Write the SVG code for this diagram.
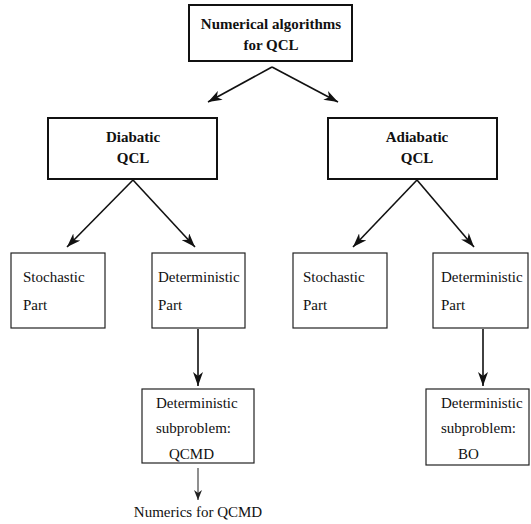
<svg xmlns="http://www.w3.org/2000/svg" width="531" height="524" viewBox="0 0 531 524" font-family="'Liberation Serif', 'Times New Roman', Times, 'DejaVu Serif', serif">
<defs>
<style>
.t{font-family:'Liberation Serif','Times New Roman',Times,'DejaVu Serif',serif;font-size:15px;fill:#111}
.b{font-weight:bold}
.bx{fill:#fff;stroke:#111;stroke-width:2}
.sx{fill:#fff;stroke:#222;stroke-width:1.2}
.c{stroke:#111;stroke-width:1.6;fill:none}
.c2{stroke:#333;stroke-width:1.1;fill:none}
</style>
<marker id="ah" viewBox="0 0 14 10" refX="14" refY="5" markerWidth="14" markerHeight="10" markerUnits="userSpaceOnUse" orient="auto">
<path d="M0,0 L14,5 L0,10 L4,5 z" fill="#111"/>
</marker>
<marker id="ah2" viewBox="0 0 10 8" refX="10" refY="4" markerWidth="10" markerHeight="8" markerUnits="userSpaceOnUse" orient="auto">
<path d="M0,0 L10,4 L0,8 L3,4 z" fill="#222"/>
</marker>
</defs>
<rect width="531" height="524" fill="#fff"/>
<g id="connectors">
<path class="c" d="M272,67 L208,102" marker-end="url(#ah)"/>
<path class="c" d="M272,67 L338,102" marker-end="url(#ah)"/>
<path class="c" d="M133,180 L67,247" marker-end="url(#ah)"/>
<path class="c" d="M133,180 L195,247" marker-end="url(#ah)"/>
<path class="c" d="M417,180 L353,247" marker-end="url(#ah)"/>
<path class="c" d="M417,180 L474,247" marker-end="url(#ah)"/>
<path class="c" d="M198,329 L198,386" marker-end="url(#ah)"/>
<path class="c" d="M483,329 L483,386" marker-end="url(#ah)"/>
<path class="c2" d="M198,468 L198,500" marker-end="url(#ah2)"/>
</g>
<g id="root">
<rect class="bx" x="189" y="5" width="163" height="56"/>
<text class="t b" x="271" y="29" text-anchor="middle">Numerical algorithms</text>
<text class="t b" x="271" y="50" text-anchor="middle">for QCL</text>
</g>
<g id="diabatic">
<rect class="bx" x="48" y="118" width="169" height="61"/>
<text class="t b" x="133" y="142" text-anchor="middle">Diabatic</text>
<text class="t b" x="133" y="163" text-anchor="middle">QCL</text>
</g>
<g id="adiabatic">
<rect class="bx" x="328" y="118" width="169" height="61"/>
<text class="t b" x="417" y="142" text-anchor="middle">Adiabatic</text>
<text class="t b" x="417" y="163" text-anchor="middle">QCL</text>
</g>
<g id="stochastic-d">
<rect class="sx" x="11" y="253" width="94" height="75"/>
<text class="t" x="23" y="282">Stochastic</text>
<text class="t" x="23" y="310">Part</text>
</g>
<g id="deterministic-d">
<rect class="sx" x="152" y="253" width="93" height="75"/>
<text class="t" x="158" y="282">Deterministic</text>
<text class="t" x="158" y="310">Part</text>
</g>
<g id="stochastic-a">
<rect class="sx" x="293" y="253" width="94" height="75"/>
<text class="t" x="303" y="282">Stochastic</text>
<text class="t" x="303" y="310">Part</text>
</g>
<g id="deterministic-a">
<rect class="sx" x="433" y="253" width="95" height="75"/>
<text class="t" x="441" y="282">Deterministic</text>
<text class="t" x="441" y="310">Part</text>
</g>
<g id="qcmd">
<rect class="sx" x="142" y="389" width="112" height="74"/>
<text class="t" x="156" y="408">Deterministic</text>
<text class="t" x="156" y="433">subproblem:</text>
<text class="t" x="169" y="459">QCMD</text>
</g>
<g id="bo">
<rect class="sx" x="426" y="389" width="103" height="76"/>
<text class="t" x="441" y="408">Deterministic</text>
<text class="t" x="441" y="433">subproblem:</text>
<text class="t" x="458" y="459">BO</text>
</g>
<g id="numerics">
<text class="t" x="198" y="517" text-anchor="middle">Numerics for QCMD</text>
</g>
</svg>
